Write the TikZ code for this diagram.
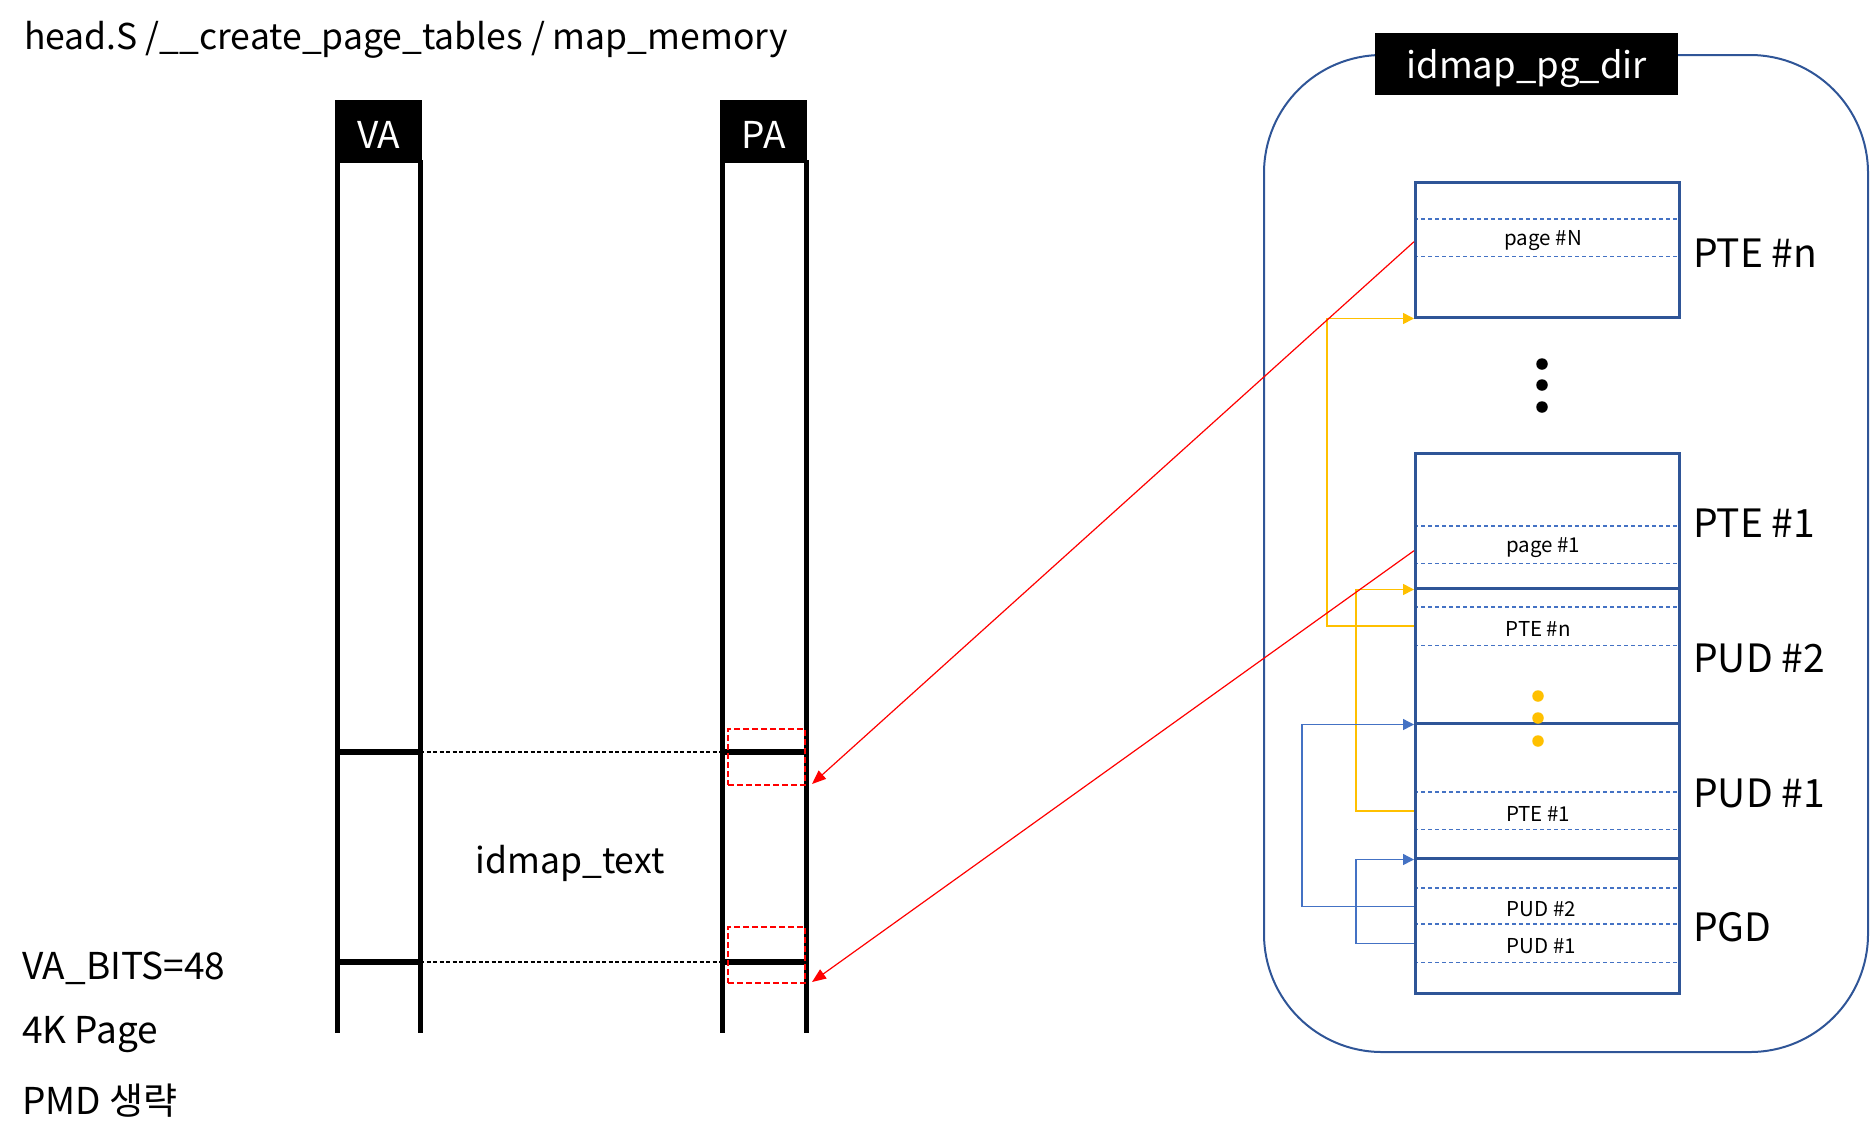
\documentclass[tikz,border=0pt]{standalone}
\usepackage{fontspec}
\setmainfont{Noto Sans CJK KR}
\usetikzlibrary{arrows.meta,calc}
\definecolor{tblue}{HTML}{2F5597}
\definecolor{lblue}{HTML}{4472C4}
\definecolor{ylw}{HTML}{FFC000}
\definecolor{pred}{HTML}{FF0000}
\begin{document}
\begin{tikzpicture}[x=1pt,y=-1pt,
  fs/.style={font=\fontsize{#1}{#1}\selectfont},
  headbox/.style={fill=black,text=white,inner sep=0pt,anchor=north west},
  colline/.style={line width=5pt},
  markline/.style={line width=5.5pt},
  tbl/.style={draw=tblue,line width=2.5pt,minimum width=264pt,minimum height=135pt,inner sep=0pt,anchor=north west},
  tblrow/.style={minimum width=264pt,inner sep=0pt,anchor=north west},
  rowtext/.style={fs=20.5,inner sep=0pt,yshift=-3pt},
  rowline/.style={draw=lblue,dashed,dash pattern=on 4pt off 3pt,line width=1.2pt},
  lvl/.style={anchor=west,fs=39,inner sep=0pt},
  note/.style={anchor=west,fs=37,inner sep=0pt},
  redbox/.style={draw=pred,line width=2.2pt,dash pattern=on 6pt off 3pt},
  redarrow/.style={draw=pred,line width=1.2pt,-{Triangle[length=14pt,width=11pt]}},
  yconn/.style={draw=ylw,line width=1.6pt,-{Triangle[length=11pt,width=11pt]}},
  bconn/.style={draw=lblue,line width=1.4pt,-{Triangle[length=11pt,width=11pt]}},
  linkline/.style={dashed,dash pattern=on 4pt off 2.5pt,line width=1.6pt},
  bdot/.style={fill=black,circle,inner sep=0pt,minimum size=11.5pt},
  ydot/.style={fill=ylw,circle,inner sep=0pt,minimum size=11.5pt}
]
\useasboundingbox (0,0) rectangle (1870,1144);

% title
\node[anchor=west,fs=35.5,inner sep=0pt] (title) at (24,40) {head.S /\_\_create\_page\_tables / map\_memory};

% VA / PA columns
\node[headbox,minimum width=87pt,minimum height=63pt] (vahead) at (335,100) {};
\node[headbox,minimum width=87pt,minimum height=63pt] (pahead) at (720,100) {};
\node[fs=37,text=white,inner sep=0pt,yshift=-3pt] (vatext) at (vahead.center) {VA};
\node[fs=37,text=white,inner sep=0pt,yshift=-3pt] (patext) at (pahead.center) {PA};

\coordinate (vaL) at (337.5,160);
\coordinate (vaR) at (420,160);
\coordinate (paL) at (722,160);
\coordinate (paR) at (806,160);
\draw[colline] (vaL) -- (337.5,1033);
\draw[colline] (vaR) -- (420,1033);
\draw[colline] (paL) -- (722,1033);
\draw[colline] (paR) -- (806,1033);

\coordinate (vaTopL) at (337.5,752);
\coordinate (vaTopR) at (420,752);
\coordinate (vaBotL) at (337.5,962);
\coordinate (vaBotR) at (420,962);
\coordinate (paTopL) at (722,752);
\coordinate (paTopR) at (806,752);
\coordinate (paBotL) at (722,962);
\coordinate (paBotR) at (806,962);
\draw[markline] (vaTopL) -- (vaTopR);
\draw[markline] (vaBotL) -- (vaBotR);
\draw[markline] (paTopL) -- (paTopR);
\draw[markline] (paBotL) -- (paBotR);
\draw[linkline] (vaTopR) -- (paTopL);
\draw[linkline] (vaBotR) -- (paBotL);

\node[redbox,anchor=north west,minimum width=77pt,minimum height=56pt,inner sep=0pt] (rbA) at (727,728) {};
\node[redbox,anchor=north west,minimum width=77pt,minimum height=56pt,inner sep=0pt] (rbB) at (727,926) {};
\coordinate (tipA) at (812,784);
\coordinate (tipB) at (812,982);

\node[fs=35.5,inner sep=0pt] (idmaptext) at (570,863) {idmap\_text};

\node[note] (n1) at (22,968) {VA\_BITS=48};
\node[note] (n2) at (22,1035) {4K Page};
\node[note] (n3) at (22,1101) {PMD 생략};

% container
\draw[tblue,line width=2pt,rounded corners=118pt] (1264,55) rectangle (1868,1052);
\node[headbox,minimum width=303pt,minimum height=62pt] (dirhead) at (1375,33) {};
\node[fs=36.5,text=white,inner sep=0pt,yshift=-4pt] (dirtext) at (dirhead.center) {idmap\_pg\_dir};

% rows (dashed separators)
\node[tblrow,minimum height=37pt] (rowN) at (1414,219) {};
\node[tblrow,minimum height=37pt] (rowP1) at (1414,526) {};
\node[tblrow,minimum height=38pt] (rowTn) at (1414,607) {};
\node[tblrow,minimum height=37pt] (rowT1) at (1414,792) {};
\node[tblrow,minimum height=36pt] (rowU2) at (1414,888) {};
\node[tblrow,minimum height=38pt] (rowU1) at (1414,924) {};
\foreach \r in {rowN,rowP1,rowTn,rowT1,rowU2,rowU1}{
  \draw[rowline] (\r.north west) -- (\r.north east);
  \draw[rowline] (\r.south west) -- (\r.south east);
}
\node[rowtext] (tN) at ($(rowN.center)+(-3,0)$) {page \#N};
\node[rowtext] (tP1) at ($(rowP1.center)+(-3,0)$) {page \#1};
\node[rowtext] (tTn) at ($(rowTn.center)+(-8,0)$) {PTE \#n};
\node[rowtext] (tT1) at ($(rowT1.center)+(-8,0)$) {PTE \#1};
\node[rowtext] (tU2) at ($(rowU2.center)+(-5,0)$) {PUD \#2};
\node[rowtext] (tU1) at ($(rowU1.center)+(-5,0)$) {PUD \#1};

% tables
\node[tbl] (pten) at (1414,181) {};
\node[tbl] (pte1) at (1414,452) {};
\node[tbl] (pud2) at (1414,587) {};
\node[tbl] (pud1) at (1414,722) {};
\node[tbl] (pgd) at (1414,857) {};

% level labels
\node[lvl] (lPTEn) at (1693,253) {PTE \#n};
\node[lvl] (lPTE1) at (1693,523) {PTE \#1};
\node[lvl] (lPUD2) at (1693,658) {PUD \#2};
\node[lvl] (lPUD1) at (1693,793) {PUD \#1};
\node[lvl] (lPGD) at (1693,927) {PGD};

% dots
\node[bdot] (d1) at (1542,364) {};
\node[bdot] (d2) at (1542,385) {};
\node[bdot] (d3) at (1542,407) {};
\node[ydot] (y1) at (1538,696) {};
\node[ydot] (y2) at (1538,718) {};
\node[ydot] (y3) at (1538,741) {};

% connectors
\draw[yconn] (rowTn.west) -- ++(-87,0) |- (pten.south west);
\draw[yconn] (rowT1.west) -- ++(-58,0) |- (pte1.south west);
\draw[bconn] (rowU2.west) -- ++(-112,0) |- (pud2.south west);
\draw[bconn] (rowU1.west) -- ++(-58,0) |- (pud1.south west);

\draw[redarrow] ($(rowN.west)+(0,4)$) -- (tipA);
\draw[redarrow] ($(rowP1.west)+(0,6)$) -- (tipB);
\end{tikzpicture}
\end{document}
